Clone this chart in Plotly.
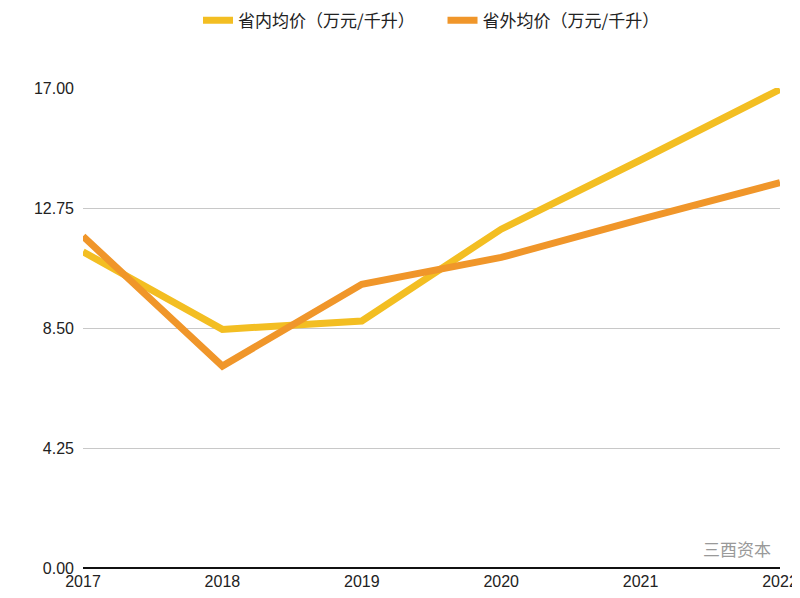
import plotly.graph_objects as go

years = ['2017', '2018', '2019', '2020', '2021', '2022']
inner_price = [11.2, 8.45, 8.75, 12.0, 14.45, 16.95]
outer_price = [11.75, 7.15, 10.05, 11.0, 12.35, 13.65]
y_ticks = [0, 4.25, 8.5, 12.75, 17]
y_labels = ['0.00', '4.25', '8.50', '12.75', '17.00']

fig = go.Figure()
fig.add_trace(go.Scatter(x=years, y=inner_price, mode='lines', name='省内均价（万元/千升）      ',
                         line=dict(color='#F3BE22', width=7)))
fig.add_trace(go.Scatter(x=years, y=outer_price, mode='lines', name='省外均价（万元/千升）',
                         line=dict(color='#F0962A', width=7)))

fig.update_layout(
    width=800, height=598,
    paper_bgcolor='white', plot_bgcolor='white',
    margin=dict(l=75, r=28, t=80, b=38, autoexpand=False),
    font=dict(family='Liberation Sans, Noto Sans CJK SC, Arial', size=16, color='#222'),
    legend=dict(orientation='h', x=0.5, xanchor='center', y=1.14, yanchor='middle',
                font=dict(size=17, family='Noto Sans CJK SC'), itemwidth=30),
    showlegend=True,
)
fig.update_xaxes(showgrid=False, showline=False, ticks='', range=[0, 5], type='category',
                 tickfont=dict(size=16), ticklabelstandoff=2)
fig.update_yaxes(range=[0, 17], tickvals=y_ticks, ticktext=y_labels, gridcolor='#c8c8c8',
                 zeroline=True, zerolinecolor='#111', zerolinewidth=2,
                 tickfont=dict(size=16), ticklabelstandoff=8)
fig.add_annotation(text='三酉资本', xref='paper', yref='paper', x=0.99, y=0.01, xanchor='right',
                   yanchor='bottom', showarrow=False,
                   font=dict(size=17, color='#999', family='Noto Sans CJK SC'))
fig.write_html("out.html")
